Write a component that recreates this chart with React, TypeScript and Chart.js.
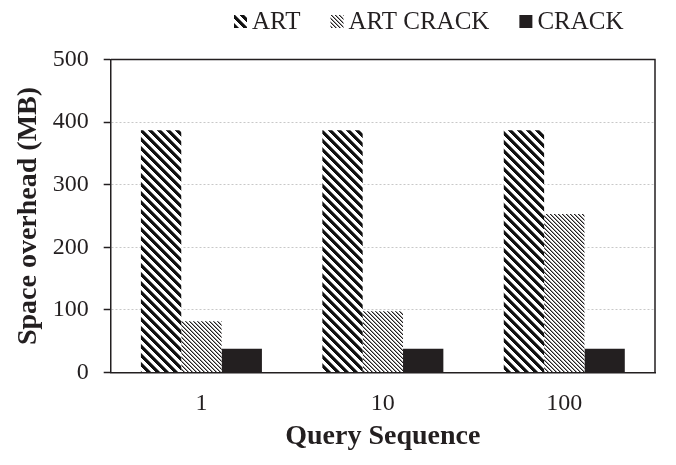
import React, { useEffect, useRef } from "react";
import { Chart, registerables } from "chart.js";

Chart.register(...registerables);

const categories = ["1", "10", "100"];
const seriesNames = ["ART", "ART CRACK", "CRACK"];
const artValues = [387, 387, 387];
const artCrackValues = [82, 98, 253];
const crackValues = [38, 38, 38];
const yTicks = [0, 100, 200, 300, 400, 500];

const INK = "#231f20";
const FONT = "'Liberation Serif', 'Times New Roman', serif";

function makeStripePattern(period: number, shades: string[]): CanvasPattern | string {
  const c = document.createElement("canvas");
  c.width = period;
  c.height = period;
  const g = c.getContext("2d");
  if (!g) return INK;
  g.fillStyle = "#ffffff";
  g.fillRect(0, 0, period, period);
  for (let y = 0; y < period; y++) {
    for (let x = 0; x < period; x++) {
      const d = (((x - y) % period) + period) % period;
      if (d < shades.length && shades[d]) {
        g.fillStyle = shades[d];
        g.fillRect(x, y, 1, 1);
      }
    }
  }
  const p = g.createPattern(c, "repeat");
  return p || INK;
}

export default function App() {
  const ref = useRef<HTMLCanvasElement | null>(null);

  useEffect(() => {
    document.body.style.margin = "0";
    const canvas = ref.current;
    if (!canvas) return;

    const artPattern = makeStripePattern(9, ["#111", "#111", "#111", "#111", "#777"]);
    const artCrackPattern = makeStripePattern(4, ["#231f20", "#9a9a9a"]);

    const frameAndLegend = {
      id: "frameAndLegend",
      afterDraw(chart: any) {
        const ctx = chart.ctx as CanvasRenderingContext2D;
        const a = chart.chartArea;
        ctx.save();
        ctx.strokeStyle = INK;
        ctx.lineWidth = 1.5;
        ctx.beginPath();
        ctx.moveTo(a.left, a.top);
        ctx.lineTo(a.right, a.top);
        ctx.lineTo(a.right, a.bottom);
        ctx.stroke();

        // legend
        ctx.font = `25px ${FONT}`;
        ctx.textBaseline = "alphabetic";
        ctx.textAlign = "left";
        let x = 234;
        const box = 13;
        const boxTop = 15;
        chart.data.datasets.forEach((ds: any) => {
          ctx.fillStyle = ds.backgroundColor;
          ctx.fillRect(x, boxTop, box, box);
          x += box + 5;
          ctx.fillStyle = INK;
          ctx.fillText(ds.label, x, 28.5);
          x += ctx.measureText(ds.label).width + 30;
        });
        ctx.restore();
      },
    };

    const chart = new Chart(canvas, {
      type: "bar",
      data: {
        labels: categories,
        datasets: [
          { label: seriesNames[0], data: artValues, backgroundColor: artPattern as any, borderWidth: 0 },
          { label: seriesNames[1], data: artCrackValues, backgroundColor: artCrackPattern as any, borderWidth: 0 },
          { label: seriesNames[2], data: crackValues, backgroundColor: INK, borderWidth: 0 },
        ],
      },
      options: {
        responsive: false,
        animation: false,
        devicePixelRatio: 1,
        layout: { padding: { top: 59.5, right: 21, bottom: 0, left: 0 } },
        datasets: { bar: { categoryPercentage: 0.667, barPercentage: 1.0 } },
        plugins: {
          legend: { display: false },
          tooltip: { enabled: false },
        },
        scales: {
          x: {
            grid: { display: false },
            border: { display: true, color: INK, width: 1.5 },
            ticks: {
              color: INK,
              font: { family: FONT, size: 24 },
              padding: 9,
              maxRotation: 0,
            },
            title: {
              display: true,
              text: "Query Sequence",
              color: INK,
              font: { family: FONT, size: 28, weight: "bold" },
              padding: { top: 0, bottom: 11 },
            },
            afterFit(scale: any) {
              scale.height = 92.5;
            },
          },
          y: {
            min: 0,
            max: 500,
            afterBuildTicks(scale: any) {
              scale.ticks = yTicks.map((v) => ({ value: v }));
            },
            grid: {
              color: "#c8c8c8",
              lineWidth: 1,
              drawTicks: true,
              tickLength: 7,
              tickColor: INK,
              tickWidth: 1.5,
            },
            border: { display: true, color: INK, width: 1.5, dash: [2, 2] },
            ticks: {
              color: INK,
              font: { family: FONT, size: 24 },
              padding: 15,
            },
            title: {
              display: true,
              text: "Space overhead (MB)",
              color: INK,
              font: { family: FONT, size: 28, weight: "bold" },
              padding: { top: 12, bottom: 0 },
            },
            afterFit(scale: any) {
              scale.width = 110.7;
            },
          },
        },
      },
      plugins: [frameAndLegend],
    });

    return () => {
      chart.destroy();
    };
  }, []);

  return (
    <div style={{ width: 676, height: 465 }}>
      <canvas ref={ref} width={676} height={465} />
    </div>
  );
}
